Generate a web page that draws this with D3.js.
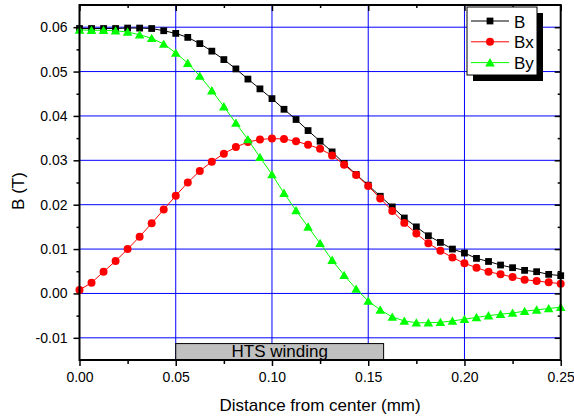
<!DOCTYPE html>
<html>
<head>
<meta charset="utf-8">
<script src="https://cdn.jsdelivr.net/npm/d3@7"></script>
<style>
  body { margin: 0; background: #fff; }
  svg { display: block; font-family: "Liberation Sans", Arial, sans-serif; }
</style>
</head>
<body>
<svg id="chart" width="574" height="418"></svg>
<script>
// distance from center (mm)
const distance = [0, 0.00625, 0.0125, 0.01875, 0.025, 0.03125, 0.0375, 0.04375, 0.05, 0.05625,
  0.0625, 0.06875, 0.075, 0.08125, 0.0875, 0.09375, 0.1, 0.10625, 0.1125, 0.11875,
  0.125, 0.13125, 0.1375, 0.14375, 0.15, 0.15625, 0.1625, 0.16875, 0.175, 0.18125,
  0.1875, 0.19375, 0.2, 0.20625, 0.2125, 0.21875, 0.225, 0.23125, 0.2375, 0.24375, 0.25]

const B = [0.0597, 0.0597, 0.0597, 0.0597, 0.0598, 0.0598, 0.0597, 0.0592, 0.0586, 0.0577,
  0.0563, 0.0546, 0.0527, 0.0506, 0.0483, 0.0461, 0.0439, 0.0415, 0.0392, 0.0367,
  0.0343, 0.0319, 0.0293, 0.0268, 0.0244, 0.0219, 0.0195, 0.0170, 0.0150, 0.0130,
  0.0115, 0.0100, 0.0091, 0.0079, 0.0072, 0.0064, 0.0058, 0.0052, 0.0049, 0.0043, 0.0040]

const Bx = [0.0008, 0.0024, 0.0049, 0.0073, 0.0100, 0.0128, 0.0158, 0.0189, 0.0220, 0.0250,
  0.0276, 0.0297, 0.0315, 0.0330, 0.0341, 0.0347, 0.0349, 0.0348, 0.0343, 0.0335,
  0.0326, 0.0311, 0.0290, 0.0267, 0.0242, 0.0214, 0.0186, 0.0159, 0.0135, 0.0113,
  0.0096, 0.0081, 0.0068, 0.0058, 0.0049, 0.0043, 0.0037, 0.0031, 0.0028, 0.0025, 0.0022]

const By = [0.0594, 0.0593, 0.0593, 0.0592, 0.0589, 0.0583, 0.0575, 0.0562, 0.0542, 0.0519,
  0.0490, 0.0457, 0.0421, 0.0384, 0.0347, 0.0307, 0.0268, 0.0226, 0.0187, 0.0150,
  0.0113, 0.0075, 0.0041, 0.0010, -0.0017, -0.0037, -0.0053, -0.0062, -0.0066, -0.0066,
  -0.0065, -0.0062, -0.0058, -0.0054, -0.0050, -0.0047, -0.0044, -0.0040, -0.0037, -0.0034, -0.0031]

const seriesNames = ["B", "Bx", "By"]
const seriesColors = ["#000000", "#ff0000", "#00ff00"]
const seriesSymbols = ["square", "circle", "triangle"]

const xTicks = [0, 0.05, 0.10, 0.15, 0.20, 0.25]
const xMinorTicks = [0.025, 0.075, 0.125, 0.175, 0.225]
const yTicks = [-0.01, 0, 0.01, 0.02, 0.03, 0.04, 0.05, 0.06]
const yMinorTicks = [-0.005, 0.005, 0.015, 0.025, 0.035, 0.045, 0.055]

// HTS winding band: x extent (mm) and y extent (T)
const htsX = [0.05, 0.158]
const htsY = [-0.015, -0.0113]
const htsLabel = "HTS winding"

const plot = {left: 79.5, right: 560.7, top: 5, bottom: 360}

const x = d3.scaleLinear().domain([0, 0.25]).range([plot.left, plot.right])
const y = d3.scaleLinear().domain([-0.015, 0.065]).range([plot.bottom, plot.top])

const fmt = d => d.toFixed(2)

const svg = d3.select("#chart")

// grid
svg.append("g")
  .selectAll("line")
  .data(xTicks.filter(d => d > 0 && d < 0.25))
  .join("line")
  .attr("x1", d => x(d)).attr("x2", d => x(d))
  .attr("y1", plot.top).attr("y2", plot.bottom)
  .attr("stroke", "#0000ff").attr("stroke-width", 1)

svg.append("g")
  .selectAll("line")
  .data(yTicks)
  .join("line")
  .attr("x1", plot.left).attr("x2", plot.right)
  .attr("y1", d => y(d)).attr("y2", d => y(d))
  .attr("stroke", "#0000ff").attr("stroke-width", 1)

// HTS band
svg.append("rect")
  .attr("x", x(htsX[0]))
  .attr("y", y(htsY[1]))
  .attr("width", x(htsX[1]) - x(htsX[0]))
  .attr("height", y(htsY[0]) - y(htsY[1]))
  .attr("fill", "#c0c0c0")
  .attr("stroke", "#000")
  .attr("stroke-width", 1)

svg.append("text")
  .attr("x", (x(htsX[0]) + x(htsX[1])) / 2)
  .attr("y", 357)
  .attr("text-anchor", "middle")
  .attr("font-size", 17)
  .text(htsLabel)

// series
const symbolType = {square: d3.symbolSquare, circle: d3.symbolCircle, triangle: d3.symbolTriangle}
const symbolSize = {square: 46, circle: 50, triangle: 40}

const allSeries = [B, Bx, By]

function drawSymbol(g, kind, color) {
  g.append("path")
    .attr("d", d3.symbol().type(symbolType[kind]).size(symbolSize[kind])())
    .attr("fill", color)
    .attr("transform", kind == "triangle" ? "translate(0,1)" : null)
}

allSeries.forEach((vals, i) => {
  const pts = distance.map((d, j) => [d, vals[j]])
  svg.append("path")
    .datum(pts)
    .attr("fill", "none")
    .attr("stroke", seriesColors[i])
    .attr("stroke-width", 1)
    .attr("d", d3.line().x(d => x(d[0])).y(d => y(d[1])))

  svg.append("g")
    .selectAll("g")
    .data(pts)
    .join("g")
    .attr("transform", d => `translate(${x(d[0])},${y(d[1])})`)
    .each(function() { drawSymbol(d3.select(this), seriesSymbols[i], seriesColors[i]) })
})

// axes
svg.append("g").attr("transform", `translate(0,${plot.bottom})`)
  .call(d3.axisBottom(x).tickValues(xTicks).tickSize(6).tickPadding(6).tickFormat(fmt))
svg.append("g").attr("transform", `translate(0,${plot.bottom})`)
  .call(d3.axisBottom(x).tickValues(xMinorTicks).tickSize(4).tickFormat(""))

svg.append("g").attr("transform", `translate(${plot.left},0)`)
  .call(d3.axisLeft(y).tickValues(yTicks).tickSize(6).tickPadding(6).tickFormat(fmt))
svg.append("g").attr("transform", `translate(${plot.left},0)`)
  .call(d3.axisLeft(y).tickValues(yMinorTicks).tickSize(3).tickFormat(""))

// top & right: inward ticks
svg.append("g").attr("transform", `translate(0,${plot.top})`)
  .call(d3.axisBottom(x).tickValues(xTicks).tickSize(6).tickFormat(""))
svg.append("g").attr("transform", `translate(0,${plot.top})`)
  .call(d3.axisBottom(x).tickValues(xMinorTicks).tickSize(3).tickFormat(""))
svg.append("g").attr("transform", `translate(${plot.right},0)`)
  .call(d3.axisLeft(y).tickValues(yTicks).tickSize(6).tickFormat(""))
svg.append("g").attr("transform", `translate(${plot.right},0)`)
  .call(d3.axisLeft(y).tickValues(yMinorTicks).tickSize(3).tickFormat(""))

svg.selectAll(".domain").remove()
svg.selectAll(".tick line").attr("stroke", "#000").attr("stroke-width", 1.5)
svg.selectAll(".tick text")
  .attr("font-family", "Liberation Sans, Arial, sans-serif")
  .attr("font-size", 14).attr("fill", "#000")

// frame
svg.append("rect")
  .attr("x", plot.left).attr("y", plot.top)
  .attr("width", plot.right - plot.left).attr("height", plot.bottom - plot.top)
  .attr("fill", "none").attr("stroke", "#000").attr("stroke-width", 2)

// axis titles
svg.append("text")
  .attr("x", (plot.left + plot.right) / 2).attr("y", 411)
  .attr("text-anchor", "middle").attr("font-size", 17)
  .text("Distance from center (mm)")

svg.append("text")
  .attr("transform", "translate(24,191) rotate(-90)")
  .attr("text-anchor", "middle").attr("font-size", 17)
  .text("B (T)")

// legend
const lg = svg.append("g").attr("transform", "translate(467,7)")
lg.append("rect").attr("x", 6).attr("y", 6).attr("width", 70).attr("height", 68).attr("fill", "#000")
lg.append("rect").attr("x", 0).attr("y", 0).attr("width", 70).attr("height", 68)
  .attr("fill", "#fff").attr("stroke", "#000").attr("stroke-width", 1)

seriesNames.forEach((name, i) => {
  const cy = 14 + i * 20.8
  lg.append("line").attr("x1", 4).attr("x2", 42).attr("y1", cy).attr("y2", cy)
    .attr("stroke", seriesColors[i]).attr("stroke-width", 1)
  const s = lg.append("g").attr("transform", `translate(23,${cy})`)
  drawSymbol(s, seriesSymbols[i], seriesColors[i])
  lg.append("text").attr("x", 47).attr("y", cy + 6.5).attr("font-size", 17).text(name)
})
</script>
</body>
</html>
